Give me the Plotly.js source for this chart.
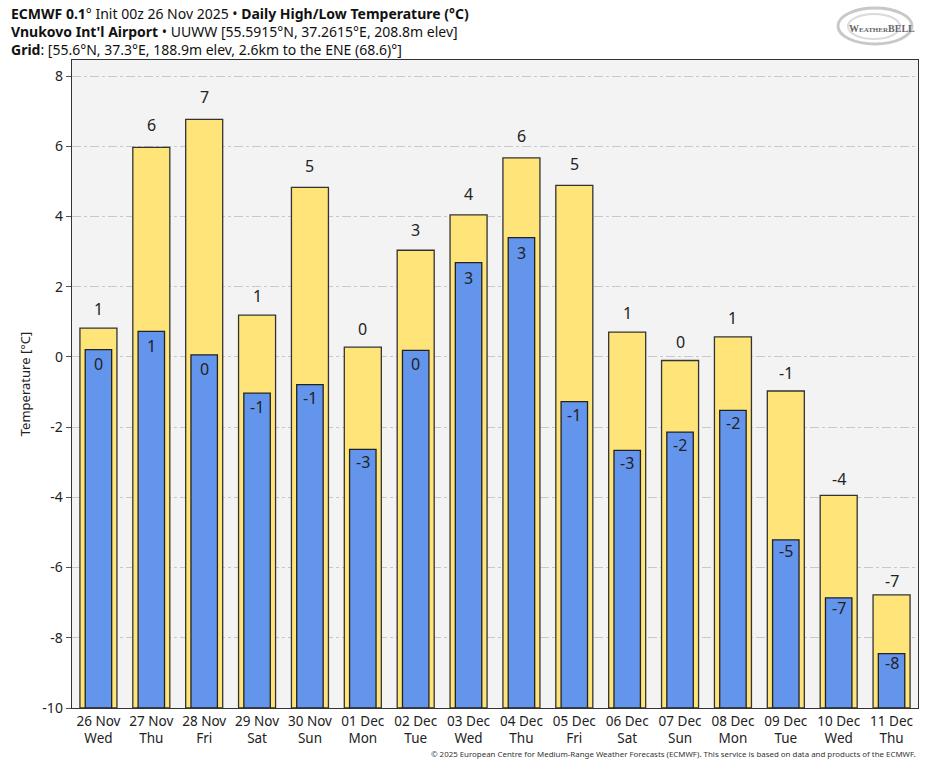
<!DOCTYPE html>
<html>
<head>
<meta charset="utf-8">
<script src="https://cdn.plot.ly/plotly-3.0.1.min.js"></script>
<style>
html,body{margin:0;padding:0;background:#fff;}
#chart{width:935px;height:768px;}
</style>
</head>
<body>
<div id="chart"></div>
<script>
const dates = ['26 Nov','27 Nov','28 Nov','29 Nov','30 Nov','01 Dec','02 Dec','03 Dec','04 Dec','05 Dec','06 Dec','07 Dec','08 Dec','09 Dec','10 Dec','11 Dec'];
const weekdays = ['Wed','Thu','Fri','Sat','Sun','Mon','Tue','Wed','Thu','Fri','Sat','Sun','Mon','Tue','Wed','Thu'];
const highs = [0.82, 5.97, 6.77, 1.19, 4.83, 0.28, 3.04, 4.05, 5.67, 4.89, 0.71, -0.10, 0.57, -0.97, -3.94, -6.78];
const lows  = [0.21, 0.73, 0.06, -1.03, -0.79, -2.63, 0.19, 2.69, 3.40, -1.27, -2.66, -2.14, -1.52, -5.21, -6.86, -8.45];
const yTicks = [-10, -8, -6, -4, -2, 0, 2, 4, 6, 8];
const titleLines = [
  '<b>ECMWF 0.1</b>° Init 00z 26 Nov 2025 • <b>Daily High/Low Temperature (°C)</b>',
  '<b>Vnukovo Int\'l Airport</b> • UUWW [55.5915°N, 37.2615°E, 208.8m elev]',
  '<b>Grid</b>: [55.6°N, 37.3°E, 188.9m elev, 2.6km to the ENE (68.6)°]'
];

const BASE = -10;
const categories = dates.map((d, i) => d + '<br>' + weekdays[i]);
const fmt = v => String(Math.round(v) + 0);
const FONT = '"Noto Sans", "Open Sans", "DejaVu Sans", sans-serif';

const W = 935, H = 768, ML = 72, MR = 17, MT = 60, MB = 60;
const PW = W - ML - MR, PH = H - MT - MB;
const px = x => (x - ML) / PW;
const py = y => (H - MB - y) / PH;

const highTrace = {
  type: 'bar', x: categories, y: highs.map(v => v - BASE), base: BASE,
  width: 0.7, name: 'High',
  marker: {color: '#ffe47a', line: {color: '#333333', width: 1.3}},
  hoverinfo: 'skip'
};
const lowTrace = {
  type: 'bar', x: categories, y: lows.map(v => v - BASE), base: BASE,
  width: 0.5, name: 'Low',
  marker: {color: '#6495ed', line: {color: '#222222', width: 1.3}},
  hoverinfo: 'skip'
};

const annotations = [];
highs.forEach((v, i) => {
  annotations.push({
    xref: 'x', yref: 'y', x: categories[i], y: v + 0.018 * (v - BASE),
    text: fmt(v), showarrow: false, yanchor: 'bottom', yshift: -1,
    font: {family: FONT, size: 16, color: '#222'}
  });
});
lows.forEach((v, i) => {
  annotations.push({
    xref: 'x', yref: 'y', x: categories[i], y: v - 0.014 * (v - BASE),
    text: fmt(v), showarrow: false, yanchor: 'top', yshift: 4,
    font: {family: FONT, size: 16, color: '#222'}
  });
});
annotations.push({
  xref: 'paper', yref: 'paper', x: px(9), y: py(31.5), xanchor: 'left', yanchor: 'middle',
  align: 'left', text: titleLines.join('<br>'), showarrow: false,
  font: {family: FONT, size: 14, color: '#111'}
});
annotations.push({
  xref: 'paper', yref: 'paper', x: px(918), y: py(754), xanchor: 'right', yanchor: 'middle',
  text: '© 2025 European Centre for Medium-Range Weather Forecasts (ECMWF). This service is based on data and products of the ECMWF.',
  showarrow: false, font: {family: FONT, size: 7.9, color: '#333'}
});
annotations.push({
  xref: 'paper', yref: 'paper', x: px(882), y: py(28), xanchor: 'center', yanchor: 'middle',
  text: '<b>W<span style="font-size:7px">EATHER</span>BELL</b>',
  showarrow: false, font: {family: '"Liberation Serif", serif', size: 10, color: '#666'}
});

const shapes = [
  {type: 'circle', xref: 'paper', yref: 'paper', x0: px(838), x1: px(912), y0: py(44), y1: py(8),
   line: {color: '#c8c8c8', width: 3}, layer: 'below'},
  {type: 'circle', xref: 'paper', yref: 'paper', x0: px(848), x1: px(900), y0: py(39), y1: py(14),
   line: {color: '#dadada', width: 2}, layer: 'below'}
];

const layout = {
  width: W, height: H,
  margin: {l: ML, r: MR, t: MT, b: MB},
  paper_bgcolor: '#ffffff',
  plot_bgcolor: '#f3f3f3',
  barmode: 'overlay',
  showlegend: false,
  font: {family: FONT, color: '#222'},
  xaxis: {
    type: 'category',
    tickfont: {family: FONT, size: 13.5, color: '#222'},
    showgrid: false, ticks: '', showline: true, linecolor: '#333', linewidth: 1.3, mirror: true,
    zeroline: false, fixedrange: true
  },
  yaxis: {
    range: [-10, 8.46],
    tickvals: yTicks, ticktext: yTicks.map(String),
    tickfont: {family: FONT, size: 14, color: '#222'},
    ticks: 'outside', ticklen: 5, tickcolor: '#555',
    showgrid: true, gridcolor: '#c8c8c8', griddash: 'dashdot', gridwidth: 1,
    showline: true, linecolor: '#333', linewidth: 1.3, mirror: true,
    zeroline: false,
    title: {text: 'Temperature [°C]', font: {family: FONT, size: 13, color: '#222'}, standoff: 8},
    fixedrange: true
  },
  annotations: annotations,
  shapes: shapes
};

Plotly.newPlot('chart', [highTrace, lowTrace], layout, {displayModeBar: false, staticPlot: true});
</script>
</body>
</html>
